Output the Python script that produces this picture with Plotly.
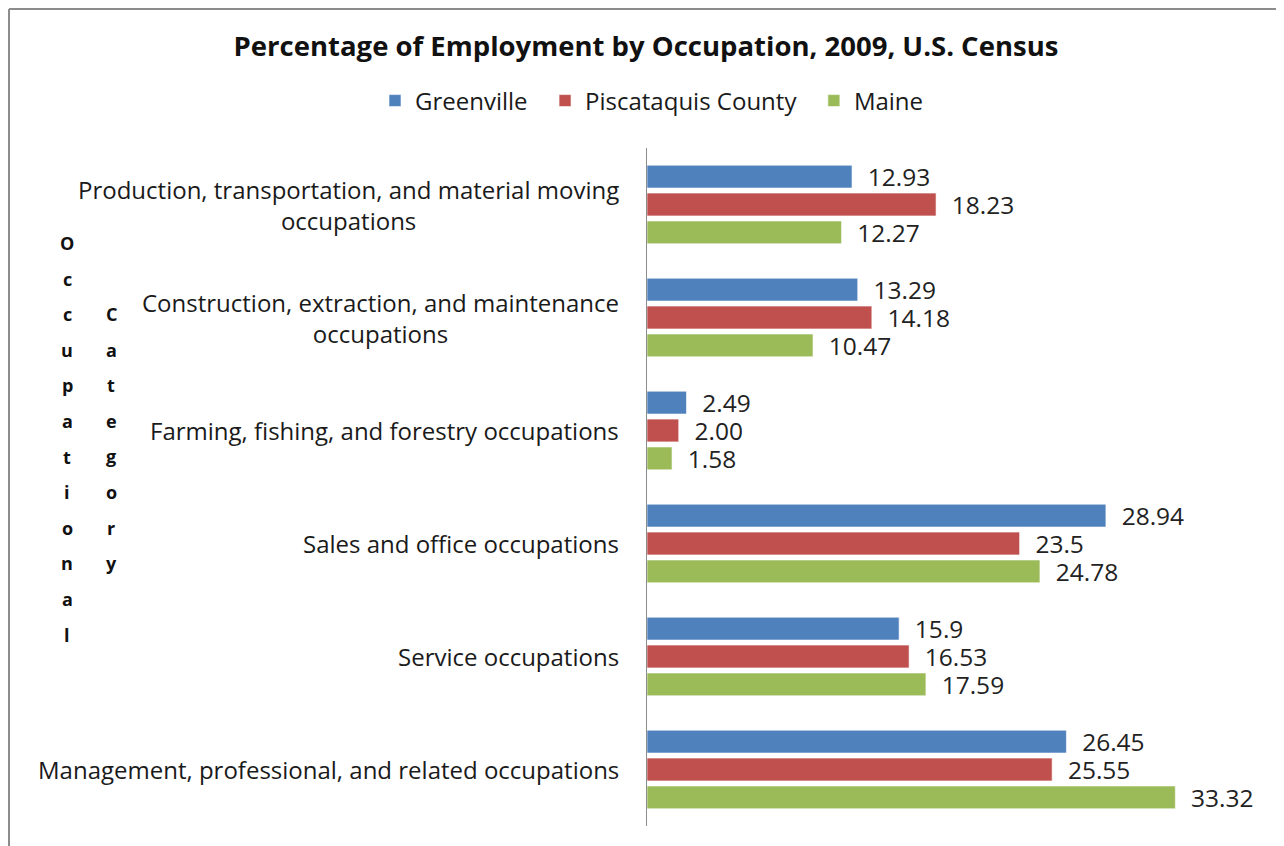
import plotly.graph_objects as go

# data
categories = [
    "Production, transportation, and material moving<br>occupations",
    "Construction, extraction, and maintenance<br>occupations",
    "Farming, fishing, and forestry occupations",
    "Sales and office occupations",
    "Service occupations",
    "Management, professional, and related occupations",
]
greenville = [12.93, 13.29, 2.49, 28.94, 15.9, 26.45]
piscataquis = [18.23, 14.18, 2.00, 23.5, 16.53, 25.55]
maine = [12.27, 10.47, 1.58, 24.78, 17.59, 33.32]
greenville_lbl = ["12.93", "13.29", "2.49", "28.94", "15.9", "26.45"]
piscataquis_lbl = ["18.23", "14.18", "2.00", "23.5", "16.53", "25.55"]
maine_lbl = ["12.27", "10.47", "1.58", "24.78", "17.59", "33.32"]

FONT = "Open Sans"
W, H = 1284, 846
OFF = 8                            # page margin around the figure
L, R, T, B = 647, 1202, 148, 826   # plot area in screen pixels


def px_x(p):
    return (p - L) / (R - L)


def px_y(p):
    return (B - p) / (B - T)


series = [
    ("Greenville\u00a0\u00a0", greenville, greenville_lbl, "#4F81BD"),
    ("Piscataquis County\u00a0\u00a0", piscataquis, piscataquis_lbl, "#C0504D"),
    ("Maine", maine, maine_lbl, "#9BBB59"),
]

fig = go.Figure()
for name, vals, lbls, col in series:
    fig.add_trace(go.Bar(
        y=categories, x=vals, name=name, orientation="h",
        marker=dict(color=col, line=dict(color="rgba(255,255,255,0.6)", width=1)),
        text=["\u00a0\u00a0" + t for t in lbls],
        textposition="outside", constraintext="none", cliponaxis=False,
        textfont=dict(family=FONT, size=24.5, color="#222222"),
        hoverinfo="skip",
    ))

# category labels, centred lines like the original
for c in categories:
    fig.add_annotation(
        x=0, xref="paper", y=c, yref="y", text=c, showarrow=False,
        xanchor="right", yanchor="middle", align="center", xshift=-26,
        font=dict(family=FONT, size=24, color="#1a1a1a"),
    )

# stacked-letter axis title
for i, ch in enumerate("Occupational"):
    fig.add_annotation(x=px_x(67), y=px_y(243 + i * 35.6), xref="paper", yref="paper",
                       text="<b>%s</b>" % ch, showarrow=False,
                       xanchor="center", yanchor="middle",
                       font=dict(family=FONT, size=18, color="#111111"))
for i, ch in enumerate("Category"):
    fig.add_annotation(x=px_x(111), y=px_y(314 + i * 35.6), xref="paper", yref="paper",
                       text="<b>%s</b>" % ch, showarrow=False,
                       xanchor="center", yanchor="middle",
                       font=dict(family=FONT, size=18, color="#111111"))

# chart frame (left and top edges visible)
fig.add_shape(type="line", xref="paper", yref="paper",
              x0=px_x(9), x1=px_x(9), y0=px_y(9), y1=px_y(870),
              line=dict(color="#8c8c8c", width=2))
fig.add_shape(type="line", xref="paper", yref="paper",
              x0=px_x(9), x1=px_x(1300), y0=px_y(9), y1=px_y(9),
              line=dict(color="#8c8c8c", width=2))

fig.update_layout(
    width=W, height=H,
    margin=dict(l=L - OFF, r=W - (R - OFF), t=T - OFF, b=H - (B - OFF)),
    paper_bgcolor="white", plot_bgcolor="white",
    barmode="group", bargap=0.26, bargroupgap=0.18,
    title=dict(text="<b>Percentage of Employment by Occupation, 2009, U.S. Census</b>",
               x=(646 - OFF) / W, xanchor="center", xref="container",
               y=1 - (46 - OFF) / H, yanchor="middle", yref="container",
               font=dict(family=FONT, size=27.5, color="#111111")),
    legend=dict(orientation="h", x=px_x(652), xref="paper", xanchor="center",
                y=px_y(101), yanchor="middle",
                font=dict(family=FONT, size=24, color="#1a1a1a"),
                itemwidth=30, tracegroupgap=0),
    showlegend=True,
    xaxis=dict(range=[0, 35], visible=False, showgrid=False, zeroline=False),
    yaxis=dict(autorange="reversed", showticklabels=False, ticks="",
               showline=True, linecolor="#8c8c8c", linewidth=1, showgrid=False),
)

fig.write_html("out.html")
